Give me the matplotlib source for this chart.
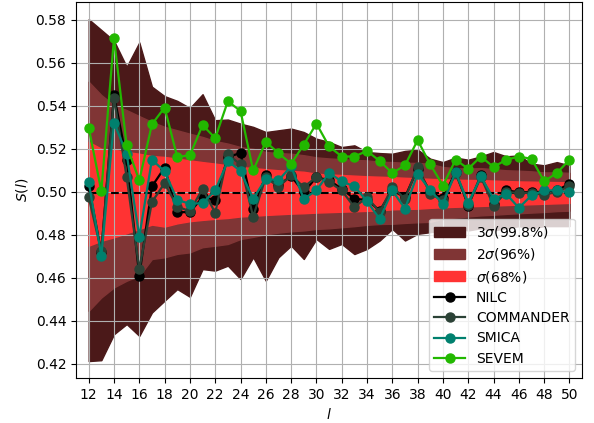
import numpy as np
import matplotlib
matplotlib.use("Agg")
import matplotlib.pyplot as plt

# multipoles
ell = list(range(12, 51))

# simulation bands (lower / upper edges)
s3_hi = [0.5803, 0.5753, 0.5703, 0.5582, 0.5695, 0.5489, 0.5445, 0.5423, 0.5390, 0.5454,
         0.5333, 0.5336, 0.5317, 0.5302, 0.5278, 0.5286, 0.5294, 0.5278, 0.5247, 0.5232,
         0.5208, 0.5216, 0.5185, 0.5180, 0.5177, 0.5190, 0.5196, 0.5154, 0.5138, 0.5159,
         0.5149, 0.5165, 0.5185, 0.5165, 0.5169, 0.5131, 0.5123, 0.5138, 0.5123]
s3_lo = [0.4212, 0.4216, 0.4337, 0.4384, 0.4329, 0.4438, 0.4493, 0.4547, 0.4511, 0.4640,
         0.4633, 0.4656, 0.4594, 0.4695, 0.4586, 0.4695, 0.4749, 0.4687, 0.4780, 0.4734,
         0.4757, 0.4710, 0.4734, 0.4773, 0.4827, 0.4773, 0.4804, 0.4812, 0.4820, 0.4830,
         0.4820, 0.4830, 0.4820, 0.4830, 0.4840, 0.4830, 0.4840, 0.4840, 0.4840]
s2_hi = [0.5512, 0.5450, 0.5403, 0.5380, 0.5352, 0.5325, 0.5302, 0.5286, 0.5270, 0.5255,
         0.5236, 0.5224, 0.5208, 0.5200, 0.5185, 0.5180, 0.5177, 0.5170, 0.5160, 0.5155,
         0.5152, 0.5148, 0.5146, 0.5140, 0.5138, 0.5135, 0.5134, 0.5130, 0.5115, 0.5110,
         0.5108, 0.5110, 0.5105, 0.5100, 0.5098, 0.5095, 0.5090, 0.5090, 0.5088]
s2_lo = [0.4446, 0.4508, 0.4555, 0.4586, 0.4609, 0.4687, 0.4695, 0.4711, 0.4718, 0.4742,
         0.4749, 0.4757, 0.4780, 0.4790, 0.4802, 0.4810, 0.4816, 0.4820, 0.4827, 0.4830,
         0.4835, 0.4840, 0.4846, 0.4850, 0.4851, 0.4855, 0.4858, 0.4860, 0.4875, 0.4880,
         0.4885, 0.4890, 0.4893, 0.4897, 0.4900, 0.4903, 0.4906, 0.4910, 0.4912]
s1_hi = [0.5232, 0.5200, 0.5196, 0.5185, 0.5177, 0.5166, 0.5162, 0.5154, 0.5146, 0.5138,
         0.5131, 0.5123, 0.5115, 0.5110, 0.5105, 0.5100, 0.5097, 0.5093, 0.5084, 0.5080,
         0.5078, 0.5075, 0.5072, 0.5070, 0.5068, 0.5065, 0.5063, 0.5060, 0.5058, 0.5056,
         0.5055, 0.5054, 0.5052, 0.5050, 0.5048, 0.5047, 0.5046, 0.5045, 0.5044]
s1_lo = [0.4749, 0.4772, 0.4788, 0.4807, 0.4827, 0.4847, 0.4838, 0.4853, 0.4863, 0.4869,
         0.4874, 0.4878, 0.4885, 0.4888, 0.4892, 0.4895, 0.4898, 0.4900, 0.4903, 0.4905,
         0.4907, 0.4909, 0.4911, 0.4913, 0.4918, 0.4920, 0.4921, 0.4925, 0.4928, 0.4930,
         0.4932, 0.4934, 0.4936, 0.4938, 0.4940, 0.4942, 0.4944, 0.4946, 0.4948]
sim_mean = [0.4995] * len(ell)

# component separation maps
nilc = [0.5025, 0.4718, 0.5450, 0.5149, 0.4609, 0.5025, 0.5112, 0.4905, 0.4905, 0.4975,
        0.4962, 0.5162, 0.5180, 0.4920, 0.5076, 0.5030, 0.5073, 0.4998, 0.5068, 0.5053,
        0.5014, 0.4967, 0.4962, 0.4912, 0.5006, 0.4975, 0.5107, 0.4998, 0.4970, 0.5092,
        0.4936, 0.5076, 0.4945, 0.5006, 0.4998, 0.4998, 0.5000, 0.5006, 0.5037]
commander = [0.4975, 0.4723, 0.5438, 0.5068, 0.4640, 0.4952, 0.5040, 0.4931, 0.4909, 0.5014,
             0.4902, 0.5174, 0.5127, 0.4884, 0.5068, 0.5022, 0.5076, 0.5022, 0.5068, 0.5045,
             0.5006, 0.4928, 0.4975, 0.4905, 0.5022, 0.4967, 0.5115, 0.4990, 0.4960, 0.5085,
             0.4940, 0.5068, 0.4936, 0.4998, 0.4995, 0.4995, 0.4985, 0.5000, 0.5025]
smica = [0.5045, 0.4702, 0.5322, 0.5177, 0.4791, 0.5149, 0.5095, 0.4962, 0.4944, 0.4947,
         0.5006, 0.5143, 0.5096, 0.4967, 0.5060, 0.5053, 0.5118, 0.4967, 0.5006, 0.5088,
         0.5048, 0.5025, 0.4956, 0.4873, 0.5006, 0.4921, 0.5084, 0.5006, 0.4944, 0.5092,
         0.4947, 0.5071, 0.4967, 0.4990, 0.4925, 0.4983, 0.5006, 0.5006, 0.4998]
sevem = [0.5299, 0.5003, 0.5715, 0.5216, 0.5053, 0.5314, 0.5392, 0.5162, 0.5170, 0.5310,
         0.5250, 0.5421, 0.5376, 0.5099, 0.5232, 0.5180, 0.5130, 0.5219, 0.5317, 0.5211,
         0.5164, 0.5164, 0.5190, 0.5143, 0.5087, 0.5123, 0.5240, 0.5127, 0.5029, 0.5149,
         0.5107, 0.5164, 0.5115, 0.5149, 0.5164, 0.5153, 0.5049, 0.5087, 0.5149]

fig, ax = plt.subplots(figsize=(5.94, 4.23), dpi=100)
fig.subplots_adjust(left=0.128, right=0.98, bottom=0.106, top=0.995)

ax.fill_between(ell, s3_lo, s3_hi, color="#4b1919", label=r"3$\sigma$(99.8%)")
ax.fill_between(ell, s2_lo, s2_hi, color="#803535", label=r"2$\sigma$(96%)")
ax.fill_between(ell, s1_lo, s1_hi, color="#ff3333", label=r"$\sigma$(68%)")
ax.plot(ell, sim_mean, "k--", lw=1.5)

ax.plot(ell, nilc, "-o", color="black", lw=1.6, ms=6.5, label="NILC")
ax.plot(ell, commander, "-o", color="#2b4236", lw=1.6, ms=6.5, label="COMMANDER")
ax.plot(ell, smica, "-o", color="#00806e", lw=1.6, ms=6.5, label="SMICA")
ax.plot(ell, sevem, "-o", color="#22b800", lw=1.6, ms=6.5, label="SEVEM")

ax.set_xlim(11, 51)
ax.set_xticks(range(12, 51, 2))
ax.grid(True)
ax.set_xlabel(r"$l$")
ax.set_ylabel(r"$S(l)$")
ax.legend(loc="lower right", handlelength=2.2, labelspacing=0.45)

fig.savefig("out.png", dpi=100)
